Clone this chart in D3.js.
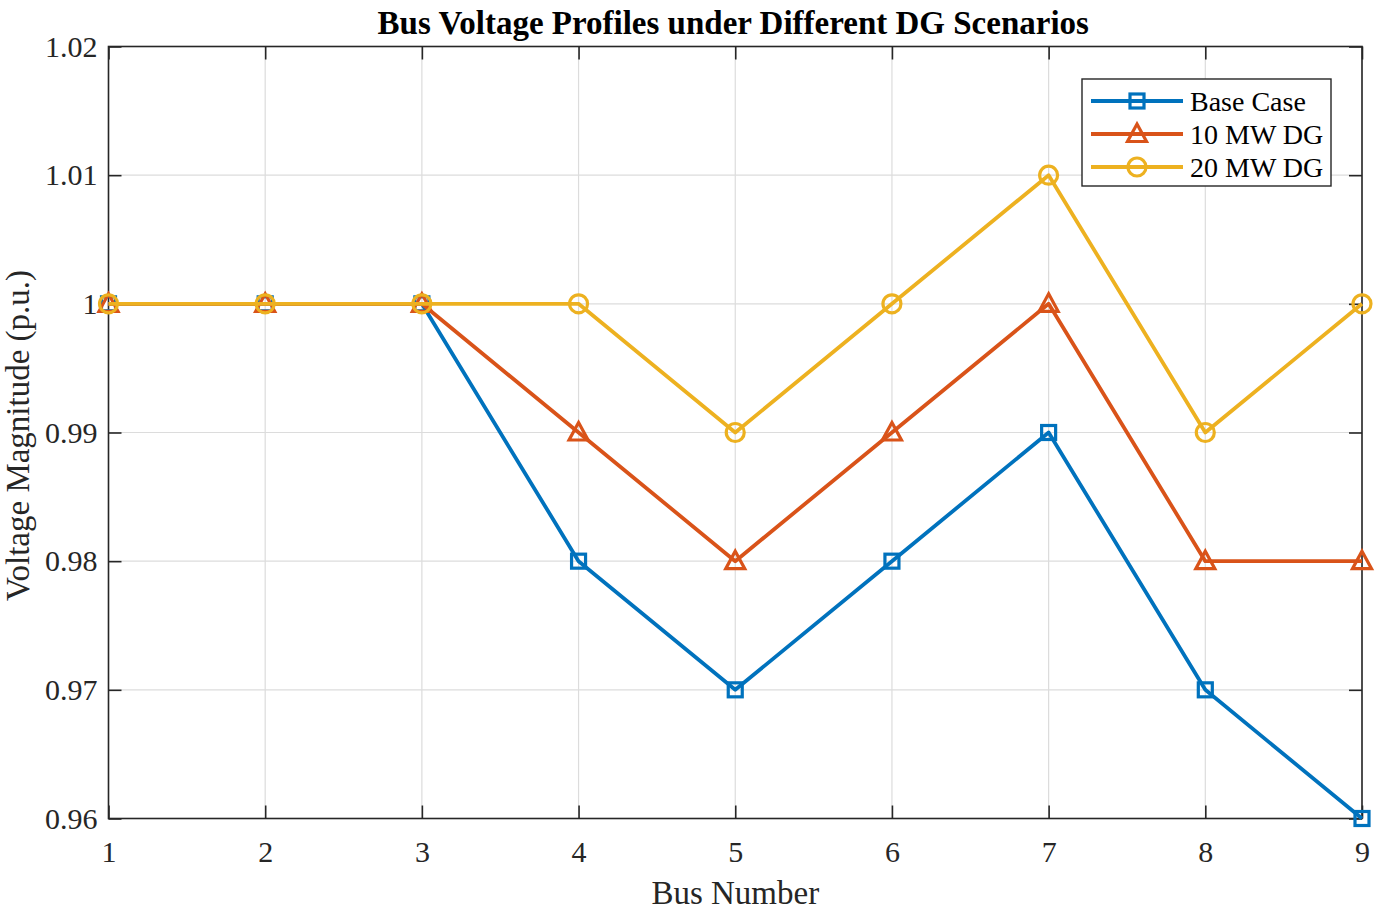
<!DOCTYPE html>
<html><head><meta charset="utf-8">
<script src="https://cdn.jsdelivr.net/npm/d3@7"></script>
<style>body{margin:0;background:#fff}svg{display:block}</style>
</head><body>
<svg id="c" width="1382" height="910"></svg>
<script>
const buses = [1,2,3,4,5,6,7,8,9];
const baseCase = [1.00,1.00,1.00,0.98,0.97,0.98,0.99,0.97,0.96];
const dg10 = [1.00,1.00,1.00,0.99,0.98,0.99,1.00,0.98,0.98];
const dg20 = [1.00,1.00,1.00,1.00,0.99,1.00,1.01,0.99,1.00];
const yTicks = [0.96,0.97,0.98,0.99,1.00,1.01,1.02];
const yTickLabels = ["0.96","0.97","0.98","0.99","1","1.01","1.02"];
const seriesNames = ["Base Case","10 MW DG","20 MW DG"];
const seriesColors = ["#0072BD","#D95319","#EDB120"];
const seriesMarkers = ["square","triangle","circle"];
const titleText = "Bus Voltage Profiles under Different DG Scenarios";
const xLabel = "Bus Number";
const yLabel = "Voltage Magnitude (p.u.)";

const svg = d3.select("#c");
const L=108.5, R=1362, T=46.5, B=818.5;
const x = d3.scaleLinear().domain([1,9]).range([L,R]);
const y = d3.scaleLinear().domain([0.96,1.02]).range([B,T]);
const font = "'Liberation Serif','Times New Roman',serif";
const ink = "#262626";

// grid
const g = svg.append("g");
g.selectAll(".gx").data(buses).enter().append("line")
  .attr("x1",d=>x(d)).attr("x2",d=>x(d)).attr("y1",T).attr("y2",B)
  .attr("stroke","#dcdcdc").attr("stroke-width",1.2);
g.selectAll(".gy").data(yTicks).enter().append("line")
  .attr("y1",d=>y(d)).attr("y2",d=>y(d)).attr("x1",L).attr("x2",R)
  .attr("stroke","#dcdcdc").attr("stroke-width",1.2);

// axes (inward ticks) using d3 axes
const tl = 13;
svg.append("g").attr("transform",`translate(0,${B})`)
  .call(d3.axisBottom(x).tickValues(buses).tickSize(-tl).tickPadding(22).tickFormat(d3.format("d")))
  .call(a=>{a.select(".domain").remove();a.selectAll("line").attr("stroke",ink).attr("stroke-width",1.6);
    a.selectAll("text").attr("font-family",font).attr("font-size",30).attr("fill",ink);});
svg.append("g").attr("transform",`translate(0,${T})`)
  .call(d3.axisTop(x).tickValues(buses).tickSize(-tl).tickFormat(""))
  .call(a=>{a.select(".domain").remove();a.selectAll("line").attr("stroke",ink).attr("stroke-width",1.6);});
svg.append("g").attr("transform",`translate(${L},0)`)
  .call(d3.axisLeft(y).tickValues(yTicks).tickSize(-tl).tickPadding(11).tickFormat((d,i)=>yTickLabels[i]))
  .call(a=>{a.select(".domain").remove();a.selectAll("line").attr("stroke",ink).attr("stroke-width",1.6);
    a.selectAll("text").attr("font-family",font).attr("font-size",30).attr("fill",ink);});
svg.append("g").attr("transform",`translate(${R},0)`)
  .call(d3.axisRight(y).tickValues(yTicks).tickSize(-tl).tickFormat(""))
  .call(a=>{a.select(".domain").remove();a.selectAll("line").attr("stroke",ink).attr("stroke-width",1.6);});
svg.append("rect").attr("x",L).attr("y",T).attr("width",R-L).attr("height",B-T)
  .attr("fill","none").attr("stroke",ink).attr("stroke-width",1.6);

function marker(sel, type, color){
  if(type==="square"){
    sel.append("rect").attr("x",-7).attr("y",-7).attr("width",14).attr("height",14)
      .attr("fill","none").attr("stroke",color).attr("stroke-width",3.2);
  } else if(type==="triangle"){
    sel.append("path").attr("d","M0,-10L9.5,7.5L-9.5,7.5Z")
      .attr("fill","none").attr("stroke",color).attr("stroke-width",3.2);
  } else {
    sel.append("circle").attr("r",9).attr("fill","none").attr("stroke",color).attr("stroke-width",3.2);
  }
}

const allSeries = [baseCase, dg10, dg20];
const line = d3.line().x((d,i)=>x(buses[i])).y(d=>y(d));
allSeries.forEach((vals,k)=>{
  svg.append("path").datum(vals).attr("d",line).attr("fill","none")
    .attr("stroke",seriesColors[k]).attr("stroke-width",3.8).attr("stroke-linejoin","round");
  vals.forEach((v,i)=>{
    const m = svg.append("g").attr("transform",`translate(${x(buses[i])},${y(v)})`);
    marker(m, seriesMarkers[k], seriesColors[k]);
  });
});

// legend
const lg = svg.append("g");
lg.append("rect").attr("x",1082).attr("y",79).attr("width",249).attr("height",107)
  .attr("fill","#fff").attr("stroke",ink).attr("stroke-width",1.4);
seriesNames.forEach((n,k)=>{
  const yy = 101 + k*33;
  lg.append("line").attr("x1",1091).attr("x2",1183).attr("y1",yy).attr("y2",yy)
    .attr("stroke",seriesColors[k]).attr("stroke-width",3.8);
  marker(lg.append("g").attr("transform",`translate(1137,${yy})`), seriesMarkers[k], seriesColors[k]);
  lg.append("text").attr("x",1190).attr("y",yy+10).text(n)
    .attr("font-family",font).attr("font-size",28).attr("fill","#000");
});

// titles
svg.append("text").attr("x",(L+R)/2-2).attr("y",34).attr("text-anchor","middle")
  .attr("font-family",font).attr("font-weight","bold").attr("font-size",33).attr("fill","#000").text(titleText);
svg.append("text").attr("x",(L+R)/2).attr("y",904).attr("text-anchor","middle")
  .attr("font-family",font).attr("font-size",33).attr("fill",ink).text(xLabel);
svg.append("text").attr("transform",`translate(29,${(T+B)/2+3}) rotate(-90)`).attr("text-anchor","middle")
  .attr("font-family",font).attr("font-size",33).attr("fill",ink).text(yLabel);
</script>
</body></html>
